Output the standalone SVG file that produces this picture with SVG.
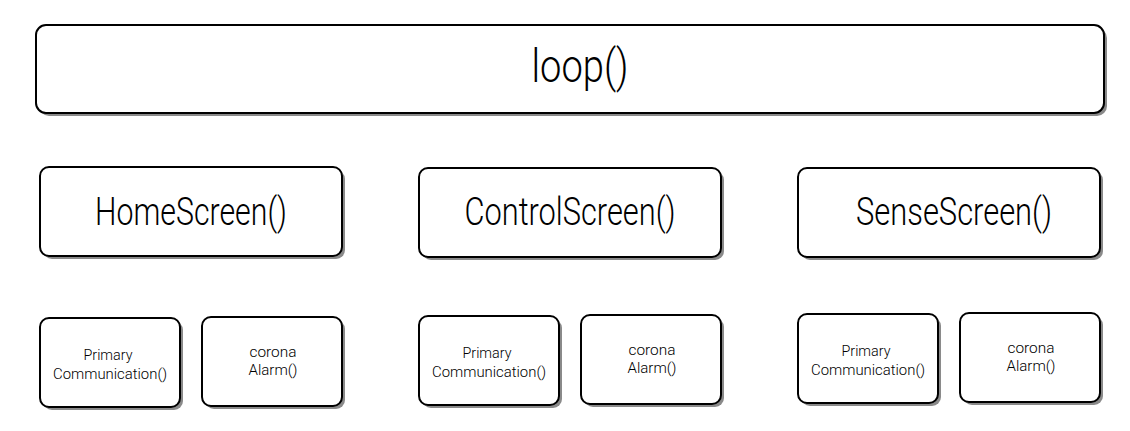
<svg xmlns="http://www.w3.org/2000/svg" width="1130" height="431" viewBox="0 0 1130 431">
<style>
.sh{fill:#8a8a8a;stroke:none}
.bx{fill:#fff;stroke:#000;stroke-width:2}
text{font-family:Roboto,"DejaVu Sans",sans-serif;font-weight:300;fill:#000;text-anchor:middle}
.big{font-size:47px}
.mid{font-size:39px}
.sm{font-size:15.5px}
</style>
<rect width="1130" height="431" fill="#fff"/>
<g id="connectors"></g>
<g id="loop">
<rect class="sh" x="39" y="28" width="1068" height="88" rx="10"/>
<rect class="bx" x="36" y="25" width="1068" height="88" rx="10"/>
<text class="big" x="580" y="82" textLength="97" lengthAdjust="spacingAndGlyphs">loop()</text>
</g>
<g id="home">
<rect class="sh" x="43" y="170" width="302" height="89" rx="9"/>
<rect class="bx" x="40" y="167" width="302" height="89" rx="9"/>
<text class="mid" x="191" y="225" textLength="192" lengthAdjust="spacingAndGlyphs">HomeScreen()</text>
</g>
<g id="control">
<rect class="sh" x="422" y="171" width="302" height="89" rx="9"/>
<rect class="bx" x="419" y="168" width="302" height="89" rx="9"/>
<text class="mid" x="570" y="225" textLength="211" lengthAdjust="spacingAndGlyphs">ControlScreen()</text>
</g>
<g id="sense">
<rect class="sh" x="801" y="171" width="302" height="89" rx="9"/>
<rect class="bx" x="798" y="168" width="302" height="89" rx="9"/>
<text class="mid" x="954" y="225" textLength="196" lengthAdjust="spacingAndGlyphs">SenseScreen()</text>
</g>
<g id="home-primary">
<rect class="sh" x="43" y="321" width="140" height="89" rx="9"/>
<rect class="bx" x="40" y="318" width="140" height="89" rx="9"/>
<text class="sm" x="108" y="360" textLength="49" lengthAdjust="spacingAndGlyphs">Primary</text>
<text class="sm" x="110" y="379" textLength="114" lengthAdjust="spacingAndGlyphs">Communication()</text>
</g>
<g id="home-corona">
<rect class="sh" x="205" y="320" width="140" height="89" rx="9"/>
<rect class="bx" x="202" y="317" width="140" height="89" rx="9"/>
<text class="sm" x="273" y="357" textLength="47" lengthAdjust="spacingAndGlyphs">corona</text>
<text class="sm" x="273" y="375" textLength="49" lengthAdjust="spacingAndGlyphs">Alarm()</text>
</g>
<g id="control-primary">
<rect class="sh" x="422" y="319" width="140" height="89" rx="9"/>
<rect class="bx" x="419" y="316" width="140" height="89" rx="9"/>
<text class="sm" x="487" y="358" textLength="49" lengthAdjust="spacingAndGlyphs">Primary</text>
<text class="sm" x="489" y="377" textLength="114" lengthAdjust="spacingAndGlyphs">Communication()</text>
</g>
<g id="control-corona">
<rect class="sh" x="584" y="318" width="140" height="89" rx="9"/>
<rect class="bx" x="581" y="315" width="140" height="89" rx="9"/>
<text class="sm" x="652" y="355" textLength="47" lengthAdjust="spacingAndGlyphs">corona</text>
<text class="sm" x="652" y="373" textLength="49" lengthAdjust="spacingAndGlyphs">Alarm()</text>
</g>
<g id="sense-primary">
<rect class="sh" x="801" y="317" width="140" height="89" rx="9"/>
<rect class="bx" x="798" y="314" width="140" height="89" rx="9"/>
<text class="sm" x="866" y="356" textLength="49" lengthAdjust="spacingAndGlyphs">Primary</text>
<text class="sm" x="868" y="375" textLength="114" lengthAdjust="spacingAndGlyphs">Communication()</text>
</g>
<g id="sense-corona">
<rect class="sh" x="963" y="316" width="140" height="89" rx="9"/>
<rect class="bx" x="960" y="313" width="140" height="89" rx="9"/>
<text class="sm" x="1031" y="353" textLength="47" lengthAdjust="spacingAndGlyphs">corona</text>
<text class="sm" x="1031" y="371" textLength="49" lengthAdjust="spacingAndGlyphs">Alarm()</text>
</g>
</svg>
